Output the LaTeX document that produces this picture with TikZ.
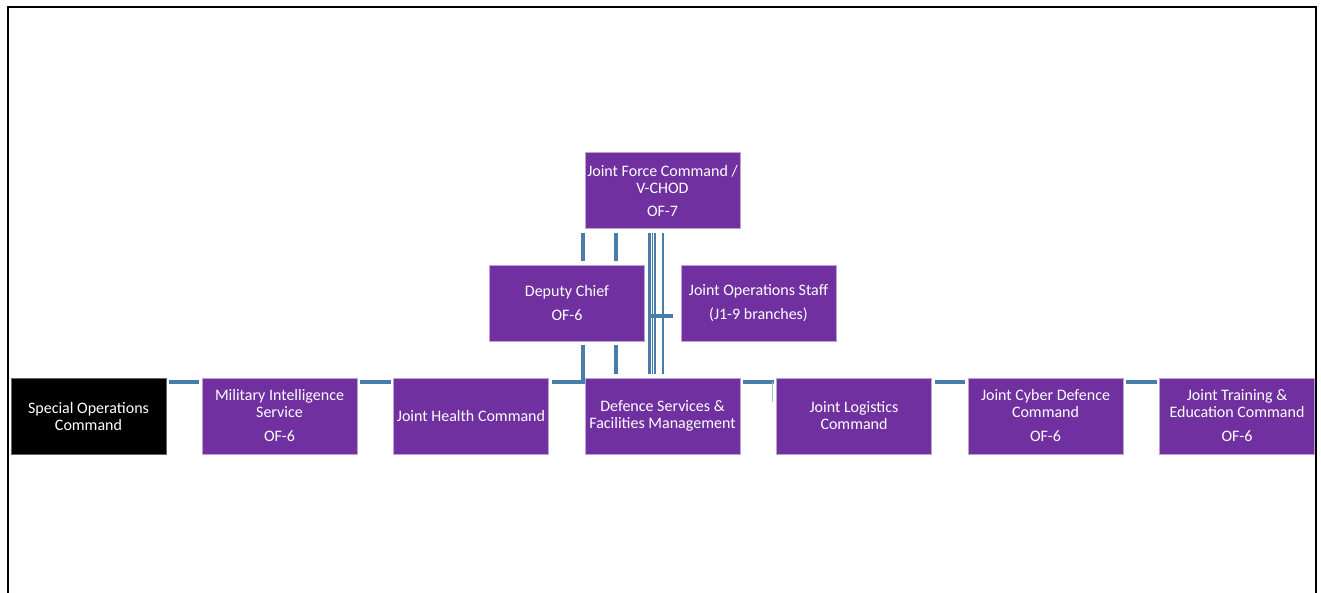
\documentclass[tikz,border=0pt]{standalone}
\usepackage{fontspec}
\newfontfamily\orgfont{Carlito}
\usetikzlibrary{positioning}
\definecolor{ofpurple}{RGB}{112,48,160}
\definecolor{linkblue}{RGB}{72,124,170}
\tikzset{
  unit/.style={rectangle, fill=ofpurple, draw=ofpurple!45!white, line width=0.5pt,
    minimum width=77.5pt, minimum height=38pt, inner sep=1pt, outer sep=0pt,
    text=white, align=center, font=\orgfont\fontsize{8}{8.5}\selectfont},
  blackunit/.style={unit, fill=black, draw=black!60},
  link/.style={draw=linkblue, line width=1.6pt},
  vlink/.style={link, shorten <=2pt, shorten >=2pt},
  hlink/.style={link, shorten <=1.5pt, shorten >=1.5pt}
}

\begin{document}
\begin{tikzpicture}[x=0.5pt, y=-0.5pt]
      \useasboundingbox (0,0) rectangle (1321,593);
      \draw[line width=1pt] (8,593) -- (8,7) -- (1316,7) -- (1316,593);

      % Draw the command nodes
      \node[unit] (jfc) at (662.5,191) {Joint Force Command /\\V-CHOD\\[3pt]OF-7};
      \node[unit] (dep) at (567,303) {Deputy Chief\\[3.5pt]OF-6};
      \node[unit] (jos) at (758.5,303) {Joint Operations Staff\\[3.5pt](J1-9 branches)};

      % Draw the bottom row
      \node[blackunit] (soc) at (88.5,416) {Special Operations\\Command};
      \node[unit] (mis) at (279.5,416) {Military Intelligence\\Service\\[3.5pt]OF-6};
      \node[unit] (jhc) at (471,416) {Joint Health Command};
      \node[unit] (dsfm) at (662.5,416) {Defence Services \&\\Facilities Management};
      \node[unit] (jlc) at (854,416) {Joint Logistics\\Command};
      \node[unit] (jcdc) at (1045.5,416) {Joint Cyber Defence\\Command\\[3.5pt]OF-6};
      \node[unit] (jtec) at (1237,416) {Joint Training \&\\Education Command\\[3.5pt]OF-6};

      % Connect the row
      \foreach \a/\b in {soc/mis, mis/jhc, dsfm/jlc, jlc/jcdc, jcdc/jtec}
        \draw[hlink] ([yshift=-2pt]\a.north east) -- ([yshift=-2pt]\b.north west);
      \draw[link, shorten <=1.5pt, shorten >=2pt] ([yshift=-2pt]jhc.north east) -| ([xshift=-1pt]dep.south -| dsfm.west);
      \draw[linkblue!50, line width=0.4pt] ([xshift=-2pt,yshift=-2pt]jlc.north west) -- ++(0,-10pt);

      % Connect the deputy chief
      \draw[vlink] ([xshift=-1pt]jfc.south west) -- ([xshift=-1pt]jfc.south west |- dep.north);
      \draw[vlink] ([xshift=15.5pt]jfc.south west) -- ([xshift=15.5pt]jfc.south west |- dep.north);
      \draw[vlink] ([xshift=15.5pt]dsfm.north west |- dep.south) -- ([xshift=15.5pt]dsfm.north west);

      % Draw the long lines to the row
      \draw[vlink, line width=1.3pt] ([xshift=-6.5pt]jfc.south) -- ([xshift=-6.5pt]dsfm.north);
      \draw[vlink, line width=0.7pt] ([xshift=-5pt]jfc.south) -- ([xshift=-5pt]dsfm.north);
      \draw[vlink, line width=1pt] ([xshift=-3.75pt]jfc.south) -- ([xshift=-3.75pt]dsfm.north);
      \draw[vlink, line width=1.4pt] ([xshift=0.25pt]jfc.south) -- ([xshift=0.25pt]dsfm.north);
      \draw[link, shorten >=4pt] ([xshift=-6.5pt]jfc.south |- jos.west) ++(0,-6.5pt) -- ([yshift=-6.5pt]jos.west);

\end{tikzpicture}
\end{document}
